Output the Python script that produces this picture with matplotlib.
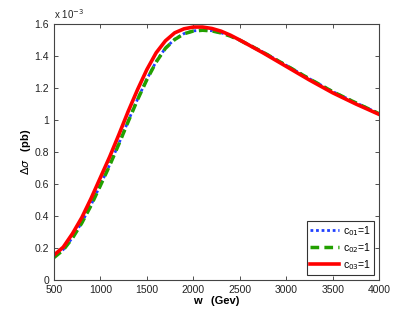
import numpy as np
import matplotlib.pyplot as plt
from matplotlib.ticker import FuncFormatter

# w in GeV, cross sections in units of 1e-3 pb
w = [500, 600, 700, 800, 900, 1000, 1100, 1200, 1300, 1400, 1500, 1600, 1700,
     1800, 1900, 2000, 2100, 2200, 2300, 2400, 2500, 2750, 3000, 3250, 3500,
     3750, 4000]
sig_c01 = [0.142, 0.19, 0.265, 0.36, 0.47, 0.595, 0.72, 0.855, 0.995, 1.13,
           1.255, 1.365, 1.45, 1.505, 1.54, 1.557, 1.562, 1.558, 1.545, 1.525,
           1.50, 1.425, 1.342, 1.258, 1.178, 1.108, 1.04]
sig_c02 = [0.140, 0.187, 0.262, 0.356, 0.466, 0.59, 0.716, 0.851, 0.991, 1.127,
           1.252, 1.362, 1.448, 1.503, 1.539, 1.556, 1.561, 1.557, 1.544, 1.524,
           1.499, 1.424, 1.341, 1.257, 1.177, 1.107, 1.039]
sig_c03 = [0.155, 0.205, 0.29, 0.39, 0.51, 0.64, 0.77, 0.91, 1.055, 1.19,
           1.315, 1.42, 1.495, 1.545, 1.57, 1.581, 1.581, 1.572, 1.555, 1.53,
           1.50, 1.42, 1.335, 1.25, 1.17, 1.10, 1.035]
labels = ['c$_{01}$=1', 'c$_{02}$=1', 'c$_{03}$=1']

plt.rcParams['font.family'] = ['Liberation Sans', 'DejaVu Sans']

fig = plt.figure(figsize=(4.18, 3.16), dpi=100)
ax = fig.add_axes([0.129, 0.114, 0.778, 0.810])

ax.plot(w, sig_c01, color='#2040ff', ls=(0, (1, 1)), lw=2, label=labels[0])
ax.plot(w, sig_c02, color='#22a000', ls=(0, (2.5, 1.5)), lw=2.5, label=labels[1])
ax.plot(w, sig_c03, color='red', ls='-', lw=2.6, label=labels[2])

ax.set_xlim(500, 4000)
ax.set_ylim(0, 1.6)
ax.set_xticks(np.arange(500, 4001, 500))
ax.set_yticks(np.arange(0, 1.61, 0.2))
ax.yaxis.set_major_formatter(FuncFormatter(lambda v, p: '%g' % round(v, 1)))
ax.tick_params(direction='in', top=True, right=True, labelsize=7.5,
               length=3, width=0.6, colors='#333333', labelcolor='#222222')
for s in ax.spines.values():
    s.set_color('#444444')
    s.set_linewidth(0.8)

ax.text(0.0, 1.012, 'x 10$^{-3}$', transform=ax.transAxes, fontsize=7,
        ha='left', va='bottom', color='#222222')
ax.set_xlabel('w   (Gev)', fontsize=8, fontweight='bold', labelpad=1)
ax.set_ylabel(r'$\Delta\sigma$   (pb)', fontsize=8, fontweight='bold', labelpad=1)

leg = ax.legend(loc='lower right', fontsize=7.5, frameon=True, fancybox=False,
                handlelength=2.8, borderpad=0.3, labelspacing=0.3,
                handletextpad=0.3, borderaxespad=0.5)
leg.get_frame().set_edgecolor('black')
leg.get_frame().set_linewidth(0.8)

fig.savefig('out.png', dpi=100)
